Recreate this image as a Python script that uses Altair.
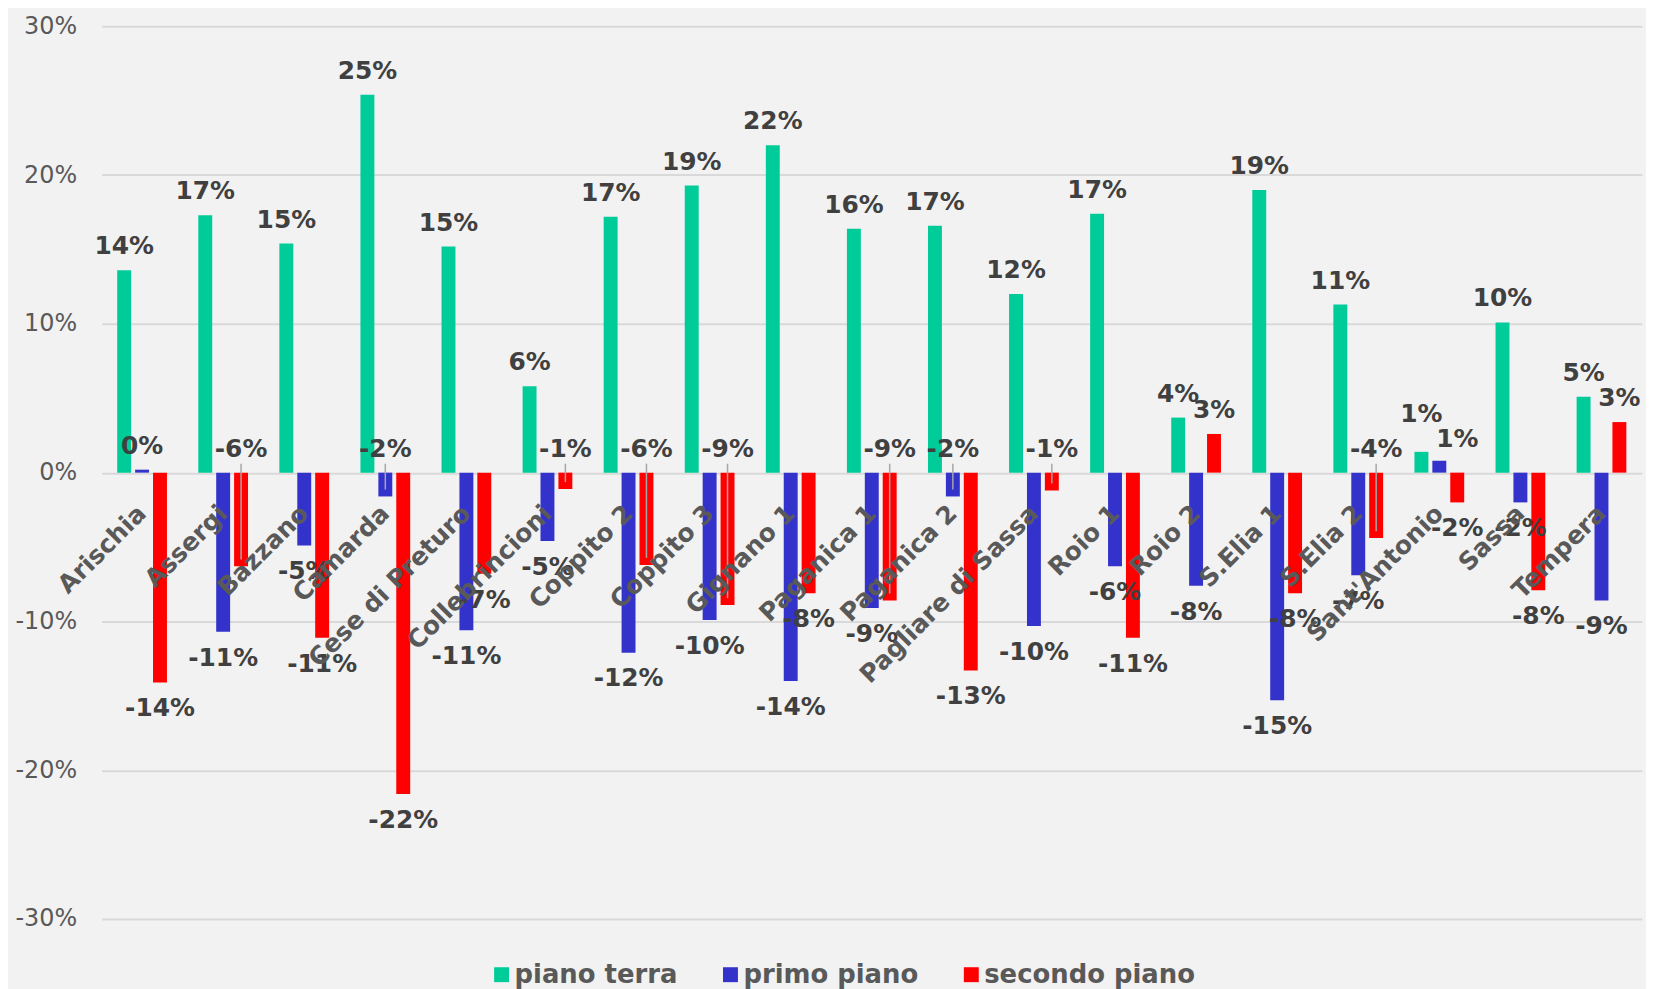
import altair as alt
import pandas as pd

categories = ["Arischia", "Assergi", "Bazzano", "Camarda", "Cese di Preturo",
              "Collebrincioni", "Coppito 2", "Coppito 3", "Gignano 1", "Paganica 1",
              "Paganica 2", "Pagliare di Sassa", "Roio 1", "Roio 2", "S.Elia 1",
              "S.Elia 2", "Sant'Antonio", "Sassa", "Tempera"]
series = ["piano terra", "primo piano", "secondo piano"]
piano_terra = [13.6, 17.3, 15.4, 25.4, 15.2, 5.8, 17.2, 19.3, 22.0, 16.4,
               16.6, 12.0, 17.4, 3.7, 19.0, 11.3, 1.4, 10.1, 5.1]
primo_piano = [0.2, -10.7, -4.9, -1.6, -10.6, -4.6, -12.1, -9.9, -14.0, -9.1,
               -1.6, -10.3, -6.3, -7.6, -15.3, -6.9, 0.8, -2.0, -8.6]
secondo_piano = [-14.1, -6.3, -11.1, -21.6, -6.8, -1.1, -6.2, -8.9, -8.1, -8.6,
                 -13.3, -1.2, -11.1, 2.6, -8.1, -4.4, -2.0, -7.9, 3.4]
# categories whose (negative) label was moved above the zero line in the original
primo_label_at_zero = ["Camarda", "Paganica 2"]
secondo_label_at_zero = ["Assergi", "Collebrincioni", "Coppito 2", "Coppito 3",
                         "Paganica 1", "Pagliare di Sassa", "S.Elia 2"]
# labels the original nudged apart to avoid collisions
terra_label_raised = ["Sant'Antonio"]
primo_label_right = ["Sant'Antonio"]
y_ticks = [-30, -20, -10, 0, 10, 20, 30]
colors = ["#00CC99", "#3333CC", "#FF0000"]

rows = []
for s, vals, at_zero, raised, right in [
        (series[0], piano_terra, [], terra_label_raised, []),
        (series[1], primo_piano, primo_label_at_zero, [], primo_label_right),
        (series[2], secondo_piano, secondo_label_at_zero, [], [])]:
    for c, v in zip(categories, vals):
        moved = c in at_zero
        above = (v >= 0) or moved
        nudge = "up" if c in raised else ("right" if c in right else "")
        rows.append({
            "cat": c, "series": s, "value": v,
            "label": f"{v:.0f}%",
            "label_y": 0 if moved else v,
            "pos": "above" if above else "below",
            "nudge": nudge,
            "leader": bool(moved and v < 0),
        })
df = pd.DataFrame(rows)
cat_df = pd.DataFrame({"cat": categories})

FONT = "DejaVu Sans"

x_enc = alt.X("cat:N", sort=categories, axis=None,
              scale=alt.Scale(paddingInner=0, paddingOuter=0))
xo_enc = alt.XOffset("series:N", sort=series,
                     scale=alt.Scale(paddingInner=0.222, paddingOuter=0.875))
y_scale = alt.Scale(domain=[-30, 30], nice=False, zero=False)

bars = alt.Chart(df).mark_bar().encode(
    x=x_enc,
    xOffset=xo_enc,
    y=alt.Y("value:Q", scale=y_scale,
            axis=alt.Axis(values=y_ticks, labelExpr="datum.value + '%'", title=None,
                          domain=False, ticks=False, labelFont=FONT, labelFontSize=24,
                          labelColor="#595959", labelPadding=25,
                          gridColor="#d9d9d9", gridWidth=2)),
    y2=alt.datum(0),
    color=alt.Color("series:N", sort=series,
                    scale=alt.Scale(domain=series, range=colors),
                    legend=alt.Legend(title=None, orient="none", legendX=389, legendY=940,
                                      direction="horizontal", symbolType="square",
                                      symbolSize=225, symbolStrokeWidth=0,
                                      labelFont=FONT, labelFontSize=26,
                                      labelFontWeight="bold", labelColor="#595959",
                                      labelOffset=0, columnPadding=40, padding=0,
                                      labelLimit=400)),
)

leaders = alt.Chart(df).transform_filter("datum.leader").mark_rule(
    color="#a6a6a6", strokeWidth=1.5, yOffset=-7, y2Offset=-9
).encode(
    x=x_enc, xOffset=xo_enc,
    y=alt.Y("value:Q", scale=y_scale),
    y2=alt.datum(0),
)

text_style = dict(font=FONT, fontSize=25, fontWeight="bold", color="#404040",
                  align="center", baseline="alphabetic")
text_enc = dict(x=x_enc, xOffset=xo_enc,
                y=alt.Y("label_y:Q", scale=y_scale), text="label:N")

lab_above = alt.Chart(df).transform_filter(
    "datum.pos == 'above' && datum.nudge == ''"
).mark_text(dy=-16, **text_style).encode(**text_enc)

lab_up = alt.Chart(df).transform_filter(
    "datum.pos == 'above' && datum.nudge == 'up'"
).mark_text(dy=-30, **text_style).encode(**text_enc)

lab_right = alt.Chart(df).transform_filter(
    "datum.pos == 'above' && datum.nudge == 'right'"
).mark_text(dy=-14, dx=18, **text_style).encode(**text_enc)

lab_below = alt.Chart(df).transform_filter("datum.pos == 'below'").mark_text(
    dy=34, **text_style
).encode(**text_enc)

cat_labels = alt.Chart(cat_df).mark_text(
    font=FONT, fontSize=25, fontWeight="bold", color="#595959",
    angle=315, align="right", baseline="middle", yOffset=37
).encode(
    x=x_enc,
    y=alt.datum(0),
    text="cat:N",
)

chart = alt.layer(bars, leaders, lab_above, lab_up, lab_right, lab_below,
                  cat_labels).properties(
    width=1548, height=897,
    autosize=alt.AutoSizeParams(type="none"),
    padding={"left": 94, "top": 16, "right": 4, "bottom": 76},
    background="#f2f2f2",
).configure_view(stroke=None)

chart.save("out.html", embed_options={"renderer": "svg", "actions": False})
